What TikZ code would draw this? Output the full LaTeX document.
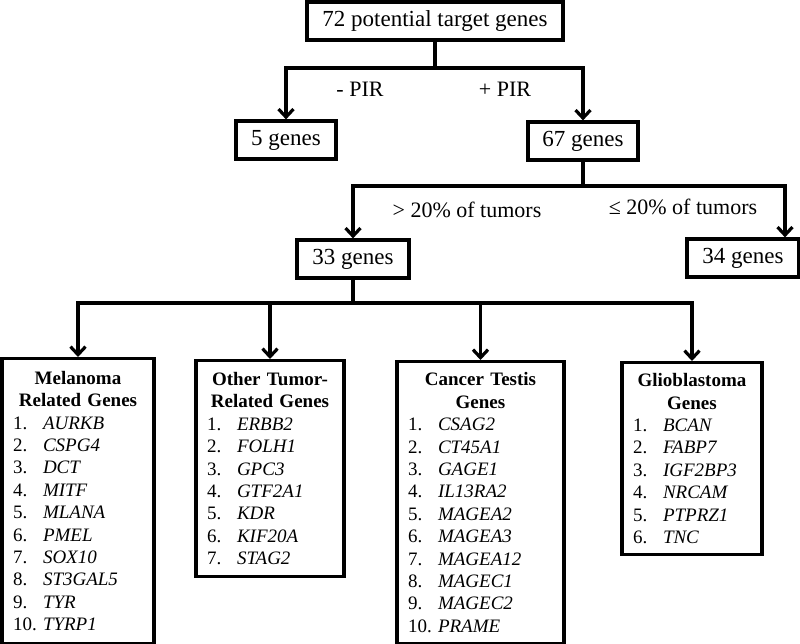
\documentclass[tikz,border=0pt]{standalone}
\usepackage{fontspec}
\setmainfont{Liberation Serif}
\usetikzlibrary{arrows.meta}

% one numbered gene of a list
\newcommand{\gn}[2]{\makebox[30pt][l]{#1.}\textit{#2}}

\begin{document}
\begin{tikzpicture}[
  x=1pt, y=-1pt,
  line width=3.2pt,
  box/.style={draw, inner sep=0pt, minimum height=38pt,
              font=\fontsize{23}{27}\selectfont},
  grp/.style={draw, anchor=north, inner xsep=11pt, inner ysep=0pt,
              align=left, font=\fontsize{19}{22.4}\selectfont},
  lbl/.style={font=\fontsize{22}{26}\selectfont},
  arr/.style={-{Straight Barb[length=8pt, width=15pt]}}
]
  \useasboundingbox (0,0) rectangle (800,644);

  \node[box, minimum width=256pt] (all) at (435,21) {72 potential target genes};
  \node[box, minimum width=100pt] (g5) at (286,140) {5 genes};
  \node[box, minimum width=110pt] (g67) at (583,141) {67 genes};
  \node[box, minimum width=112pt] (g33) at (353,259) {33 genes};
  \node[box, minimum width=112pt] (g34) at (743,258) {34 genes};

  \node[lbl] (minus) at (360,89) {- PIR};
  \node[lbl] (plus) at (505,89) {+ PIR};
  \node[lbl] (gt) at (467,210) {> 20\% of tumors};
  \node[lbl] (le) at (683,207) {≤ 20\% of tumors};

  \node[grp, text width=130pt, minimum height=285pt] (mel) at (78,357)
    {{\centering\bfseries Melanoma\\ Related Genes\par}
     \gn{1}{AURKB}\\ \gn{2}{CSPG4}\\ \gn{3}{DCT}\\ \gn{4}{MITF}\\
     \gn{5}{MLANA}\\ \gn{6}{PMEL}\\ \gn{7}{SOX10}\\ \gn{8}{ST3GAL5}\\
     \gn{9}{TYR}\\ \gn{10}{TYRP1}};
  \node[grp, text width=126pt, minimum height=216pt] (oth) at (270,359)
    {{\centering\bfseries Other Tumor-\\ Related Genes\par}
     \gn{1}{ERBB2}\\ \gn{2}{FOLH1}\\ \gn{3}{GPC3}\\ \gn{4}{GTF2A1}\\
     \gn{5}{KDR}\\ \gn{6}{KIF20A}\\ \gn{7}{STAG2}};
  \node[grp, text width=145pt, minimum height=282pt] (can) at (480.5,360)
    {{\centering\bfseries Cancer Testis\\ Genes\par}
     \gn{1}{CSAG2}\\ \gn{2}{CT45A1}\\ \gn{3}{GAGE1}\\ \gn{4}{IL13RA2}\\
     \gn{5}{MAGEA2}\\ \gn{6}{MAGEA3}\\ \gn{7}{MAGEA12}\\ \gn{8}{MAGEC1}\\
     \gn{9}{MAGEC2}\\ \gn{10}{PRAME}};
  \node[grp, text width=118pt, minimum height=192pt] (gli) at (692,361)
    {{\centering\bfseries Glioblastoma\\ Genes\par}
     \gn{1}{BCAN}\\ \gn{2}{FABP7}\\ \gn{3}{IGF2BP3}\\ \gn{4}{NRCAM}\\
     \gn{5}{PTPRZ1}\\ \gn{6}{TNC}};

  \coordinate (j1) at (435,68);
  \coordinate (j2) at (583,186);
  \coordinate (j3) at (353,303);

  \draw (all) -- (j1);
  \draw[arr] (j1) -| (g5);
  \draw[arr] (j1) -| (g67);
  \draw (g67) -- (j2);
  \draw[arr] (j2) -| (g33);
  \draw[arr] (j2) -| ([xshift=42pt]g34.north);
  \draw (g33) -- (j3);
  \draw[arr] (j3) -| (mel);
  \draw[arr] (j3) -| (oth);
  \draw[arr] (j3) -| (can);
  \draw[arr] (j3) -| (gli);
\end{tikzpicture}
\end{document}
